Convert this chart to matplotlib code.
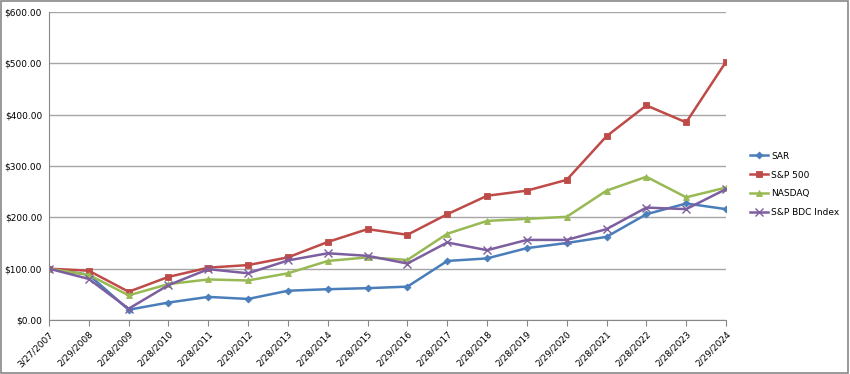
import matplotlib
matplotlib.use("Agg")
from matplotlib import pyplot as plt
from matplotlib.patches import Rectangle

# data
dates = ["3/27/2007", "2/29/2008", "2/28/2009", "2/28/2010", "2/28/2011",
         "2/29/2012", "2/28/2013", "2/28/2014", "2/28/2015", "2/29/2016",
         "2/28/2017", "2/28/2018", "2/28/2019", "2/29/2020", "2/28/2021",
         "2/28/2022", "2/28/2023", "2/29/2024"]
sar = [100, 88, 20, 34, 45, 41, 57, 60, 62, 65, 115, 120, 140, 150, 162, 206, 227, 216]
sp500 = [100, 96, 55, 84, 102, 107, 122, 152, 177, 166, 206, 242, 252, 273, 358, 418, 385, 503]
nasdaq = [100, 88, 48, 70, 79, 77, 91, 115, 122, 117, 168, 193, 197, 201, 252, 279, 239, 258]
bdc = [100, 80, 22, 68, 99, 91, 116, 130, 125, 110, 151, 136, 156, 156, 177, 219, 216, 255]

series = [
    ("SAR", sar, "#4A7EBB", "D", 3.5),
    ("S&P 500", sp500, "#BE4B48", "s", 5),
    ("NASDAQ", nasdaq, "#98B954", "^", 5),
    ("S&P BDC Index", bdc, "#7D5FA0", "x", 5.5),
]

fig = plt.figure(figsize=(8.5, 3.74), dpi=100)
fig.patches.append(Rectangle((0.001, 0.002), 0.997, 0.995, transform=fig.transFigure,
                             fill=False, edgecolor="#888888", linewidth=1.2))

ax = fig.add_axes([49 / 850, 1 - 320 / 374, (726 - 49) / 850, (320 - 12) / 374])
x = list(range(len(dates)))
for name, vals, color, marker, ms in series:
    ax.plot(x, vals, color=color, linewidth=1.8, marker=marker, markersize=ms,
            markeredgewidth=1.0 if marker == "x" else 0.6, markeredgecolor=color,
            label=name)

ax.set_xlim(0, len(dates) - 1)
ax.set_ylim(0, 600)
ax.set_yticks(range(0, 601, 100))
ax.set_yticklabels([f"${v:.2f}" for v in range(0, 601, 100)], fontsize=6.5)
ax.set_xticks(x)
ax.set_xticklabels(dates, rotation=45, ha="right", rotation_mode="anchor", fontsize=6.5)
ax.tick_params(axis="x", length=4, color="#888888", pad=3)
ax.tick_params(axis="y", length=0, pad=5)
ax.grid(axis="y", color="#A6A6A6", linewidth=1)
ax.set_axisbelow(True)
for side in ["top", "right"]:
    ax.spines[side].set_visible(False)
for side in ["left", "bottom"]:
    ax.spines[side].set_color("#888888")

ax.legend(loc="center left", bbox_to_anchor=(1.035, 0.44), frameon=False,
          borderaxespad=0, borderpad=0, fontsize=6.5, handlelength=2.0,
          labelspacing=1.1, handletextpad=0.4)

fig.savefig("out.png", dpi=100)
